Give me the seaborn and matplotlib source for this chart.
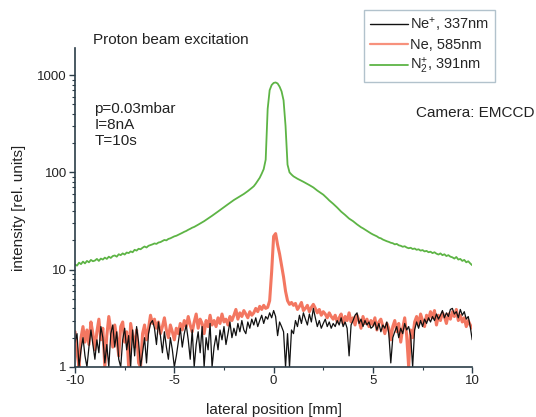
import numpy as np
import pandas as pd
import matplotlib
matplotlib.use("Agg")
import matplotlib.pyplot as plt
import seaborn as sns
from matplotlib.ticker import LogLocator, NullFormatter, MultipleLocator

# Lateral position grid of the camera profile [mm]
position_mm = np.round(np.arange(-100, 101) * 0.1, 1)

# Ne+ line, 337 nm
ne_ion_337 = [
    1.8, 2.2, 1.0, 1.5, 2.0, 1.3, 1.0, 1.6, 2.4, 1.7,
    1.2, 1.9, 1.4, 2.6, 2.0, 1.1, 1.7, 1.0, 2.2, 2.7,
    1.6, 2.3, 1.2, 1.0, 1.9, 2.5, 1.5, 2.1, 1.0, 2.4,
    1.3, 2.6, 1.8, 1.0, 1.4, 2.0, 1.1, 2.2, 2.8, 3.0,
    2.5, 1.7, 2.9, 2.1, 1.4, 2.3, 1.6, 1.2, 2.0, 1.5,
    1.0, 1.3, 1.8, 2.5, 1.6, 2.2, 2.7, 1.9, 1.2, 2.4,
    1.0, 1.7, 2.3, 1.4, 2.6, 1.0, 2.0, 1.5, 2.8, 1.0,
    1.6, 2.1, 1.5, 2.4, 1.9, 2.6, 1.7, 2.2, 2.9, 2.0,
    2.5, 2.1, 2.8, 2.3, 3.0, 2.4, 2.2, 2.9, 2.5, 3.1,
    2.7, 3.2, 2.6, 3.0, 3.4, 2.8, 3.3, 3.1, 3.6, 3.2,
    3.8, 3.3, 2.1, 2.9, 2.6, 2.3, 1.0, 2.2, 1.0, 2.4,
    2.2, 3.0, 2.6, 3.4, 2.8, 3.6, 3.1, 2.7, 3.5, 2.9,
    4.0, 3.2, 2.6, 3.0, 2.5, 2.8, 3.1, 2.6, 2.9, 2.5,
    2.8, 2.6, 3.0, 2.7, 3.2, 2.6, 2.9, 2.5, 1.3, 2.7,
    3.0, 3.4, 3.6, 2.8, 3.1, 2.6, 3.0, 2.7, 2.9, 2.5,
    2.6, 2.9, 2.4, 2.8, 2.3, 2.7, 2.5, 2.9, 2.2, 1.1,
    2.0, 2.3, 2.6, 2.0, 2.5, 2.2, 2.8, 2.4, 2.6, 2.1,
    1.0, 2.4, 2.9, 2.5, 3.0, 2.6, 3.1, 2.8, 3.2, 2.9,
    3.3, 3.0, 3.5, 3.1, 3.4, 3.8, 3.2, 3.6, 3.3, 3.9,
    4.0, 3.5, 3.7, 3.2, 3.9, 3.4, 3.7, 3.1, 3.3, 2.6,
    1.9,
]

# Ne line, 585 nm
ne_585 = [
    2.3, 1.4, 1.0, 2.0, 2.6, 1.8, 2.4, 1.7, 2.9, 2.2,
    1.5, 2.3, 3.1, 1.9, 2.5, 1.0, 2.1, 3.3, 2.4, 1.6,
    2.7, 2.0, 1.3, 2.6, 2.9, 1.8, 2.3, 1.0, 2.8, 2.1,
    1.6, 2.4, 1.1, 1.0, 2.2, 2.7, 1.9, 2.5, 3.4, 2.8,
    3.1, 2.5, 2.9, 2.2, 2.6, 3.2, 2.4, 2.0, 2.7, 2.3,
    1.9, 2.5, 2.2, 2.8, 2.4, 3.0, 2.6, 3.3, 2.7, 2.3,
    2.9, 3.5, 2.5, 3.1, 2.8, 2.2, 3.0, 2.6, 3.4, 2.7,
    3.0, 2.6, 3.2, 2.8, 3.5, 2.9, 3.1, 2.7, 3.3, 3.0,
    3.4, 3.9, 3.1, 3.6, 3.3, 3.8, 3.5, 3.2, 3.7, 3.4,
    3.6, 4.0, 3.7, 4.2, 3.9, 4.3, 4.0, 4.1, 4.8, 9.5,
    22.0, 23.5, 18.0, 14.5, 11.0, 8.4, 6.0, 4.8, 4.4, 4.6,
    4.3, 4.5, 3.9, 4.2, 4.6, 3.8, 4.0, 4.3, 3.7, 4.1,
    4.4, 4.0, 3.6, 3.9, 3.4, 3.7, 3.5, 3.2, 3.6, 3.3,
    3.1, 3.4, 2.9, 3.2, 3.5, 2.8, 3.3, 3.0, 3.6, 2.9,
    3.2, 2.7, 3.4, 3.0, 2.5, 3.3, 2.8, 3.1, 2.6, 3.0,
    2.7, 3.2, 2.4, 2.9, 3.1, 2.6, 2.2, 2.8, 2.5, 1.9,
    2.6, 3.0, 2.3, 2.8, 1.8, 2.5, 3.2, 2.1, 1.0, 2.4,
    2.0, 2.9, 3.3, 2.7, 3.5, 3.0, 2.6, 3.4, 3.1, 3.7,
    3.2, 3.8, 2.7, 3.4, 3.0, 3.6, 3.3, 2.8, 3.5, 3.1,
    3.7, 3.3, 3.9, 3.0, 3.4, 2.9, 3.2, 2.6, 3.0, 2.7,
    2.5,
]

# N2+ band, 391 nm
n2_ion_391 = [
    11.3, 11.0, 11.8, 11.4, 12.1, 11.6, 12.3, 11.9, 12.6, 12.2,
    12.4, 12.9, 12.3, 13.0, 12.7, 13.3, 12.9, 13.6, 13.2, 13.8,
    14.0, 13.6, 14.4, 14.1, 14.7, 14.3, 15.0, 14.8, 15.4, 15.1,
    16.0, 15.7, 16.4, 16.2, 16.8, 17.3, 16.9, 17.6, 17.9, 18.2,
    18.6, 18.4, 19.0, 19.2, 19.7, 20.2, 20.0, 20.7, 21.0, 21.5,
    22.0, 22.3, 22.8, 23.3, 23.9, 24.5, 25.0, 25.7, 26.3, 27.0,
    27.5, 28.2, 29.0, 29.8, 30.6, 31.5, 32.5, 33.6, 34.7, 35.8,
    37.0, 38.3, 39.6, 41.0, 42.5, 44.0, 45.5, 47.0, 48.6, 50.3,
    52.0, 53.5, 55.0, 56.5, 58.2, 60.0, 62.0, 64.2, 66.6, 69.2,
    72.0, 76.5, 82.0, 88.0, 97.0, 108.0, 135.0, 450.0, 700.0, 790.0,
    830.0, 840.0, 820.0, 760.0, 680.0, 550.0, 300.0, 120.0, 100.0, 95.0,
    91.0, 88.5, 86.0, 84.0, 82.0, 80.0, 78.0, 76.0, 74.0, 72.0,
    70.0, 67.5, 65.0, 63.0, 61.0, 59.0, 56.5, 54.0, 51.5, 49.5,
    47.5, 45.5, 43.5, 41.5, 39.5, 38.0, 36.5, 35.0, 33.5, 32.5,
    31.5, 30.3, 29.2, 28.2, 27.3, 26.6, 25.8, 25.0, 24.3, 23.6,
    23.0, 22.5, 22.0, 21.3, 21.0, 20.4, 20.0, 19.6, 19.3, 18.9,
    18.7, 18.2, 18.4, 17.8, 17.6, 17.2, 17.4, 16.9, 16.6, 16.8,
    16.3, 16.5, 16.0, 16.2, 15.7, 15.9, 15.4, 15.6, 15.1, 15.3,
    14.8, 15.1, 14.6, 14.3, 14.7, 14.1, 14.4, 13.8, 14.1, 13.6,
    13.4, 13.0, 13.5, 12.7, 12.9, 12.3, 12.6, 11.9, 12.2, 11.6,
    11.1,
]

series_labels = ["Ne$^{+}$, 337nm", "Ne, 585nm", "N$_2^{+}$, 391nm"]
x_ticks = [-10, -5, 0, 5, 10]
y_ticks = [1, 10, 100, 1000]

sns.set_theme(style="ticks")
plt.rcParams["font.family"] = ["Liberation Sans", "DejaVu Sans"]
plt.rcParams["mathtext.default"] = "regular"

profiles = pd.DataFrame({
    "position": position_mm,
    "ne_ion": ne_ion_337,
    "ne": ne_585,
    "n2_ion": n2_ion_391,
})

fig = plt.figure(figsize=(5.36, 4.17), dpi=100)
ax = fig.add_axes([0.140, 0.120, 0.741, 0.765])

sns.lineplot(data=profiles, x="position", y="n2_ion", ax=ax, color="#5db445",
             lw=1.3, estimator=None, sort=False)
sns.lineplot(data=profiles, x="position", y="ne", ax=ax, color="#f0553a",
             lw=2.2, alpha=0.8, estimator=None, sort=False)
sns.lineplot(data=profiles, x="position", y="ne_ion", ax=ax, color="#111111",
             lw=0.9, estimator=None, sort=False)

ax.set_yscale("log")
ax.set_xlim(-10, 10)
ax.set_ylim(1, 1900)
ax.set_xticks(x_ticks)
ax.set_xticklabels([str(t) for t in x_ticks])
ax.xaxis.set_minor_locator(MultipleLocator(2.5))
ax.set_yticks(y_ticks)
ax.set_yticklabels([str(t) for t in y_ticks])
ax.yaxis.set_minor_locator(LogLocator(base=10, subs=np.arange(2, 10)))
ax.yaxis.set_minor_formatter(NullFormatter())

spine_col = "#2b3d48"
for side in ("top", "right"):
    ax.spines[side].set_visible(False)
for side in ("left", "bottom"):
    ax.spines[side].set_color(spine_col)
    ax.spines[side].set_linewidth(1.2)
ax.tick_params(which="major", direction="out", length=4, width=1.0,
               color=spine_col, labelsize=9.5, labelcolor="#222222", pad=2)
ax.tick_params(which="minor", direction="out", length=2.5, width=0.8,
               color=spine_col)

ax.set_xlabel("lateral position [mm]", fontsize=11, color="#222222", labelpad=11)
ax.set_ylabel("intensity [rel. units]", fontsize=11, color="#222222", labelpad=8)

fig.text(0.173, 0.905, "Proton beam excitation", fontsize=11, color="#222222",
         va="center")
fig.text(0.176, 0.700, "p=0.03mbar\nI=8nA\nT=10s", fontsize=11, color="#222222",
         va="center", linespacing=1.2)
fig.text(0.777, 0.728, "Camera: EMCCD", fontsize=11, color="#222222", va="center")

handles = [
    plt.Line2D([], [], color="#111111", lw=1.0),
    plt.Line2D([], [], color="#f7917c", lw=1.6),
    plt.Line2D([], [], color="#5db445", lw=1.3),
]
leg = fig.legend(handles, series_labels, loc="upper right",
                 bbox_to_anchor=(0.924, 0.977), fontsize=10.5, frameon=True,
                 fancybox=False, handlelength=2.6, handletextpad=0.15,
                 borderpad=0.4, labelspacing=0.3, borderaxespad=0)
leg.get_frame().set_edgecolor("#9fb3c0")
leg.get_frame().set_linewidth(1.0)

fig.savefig("out.png", dpi=100)
